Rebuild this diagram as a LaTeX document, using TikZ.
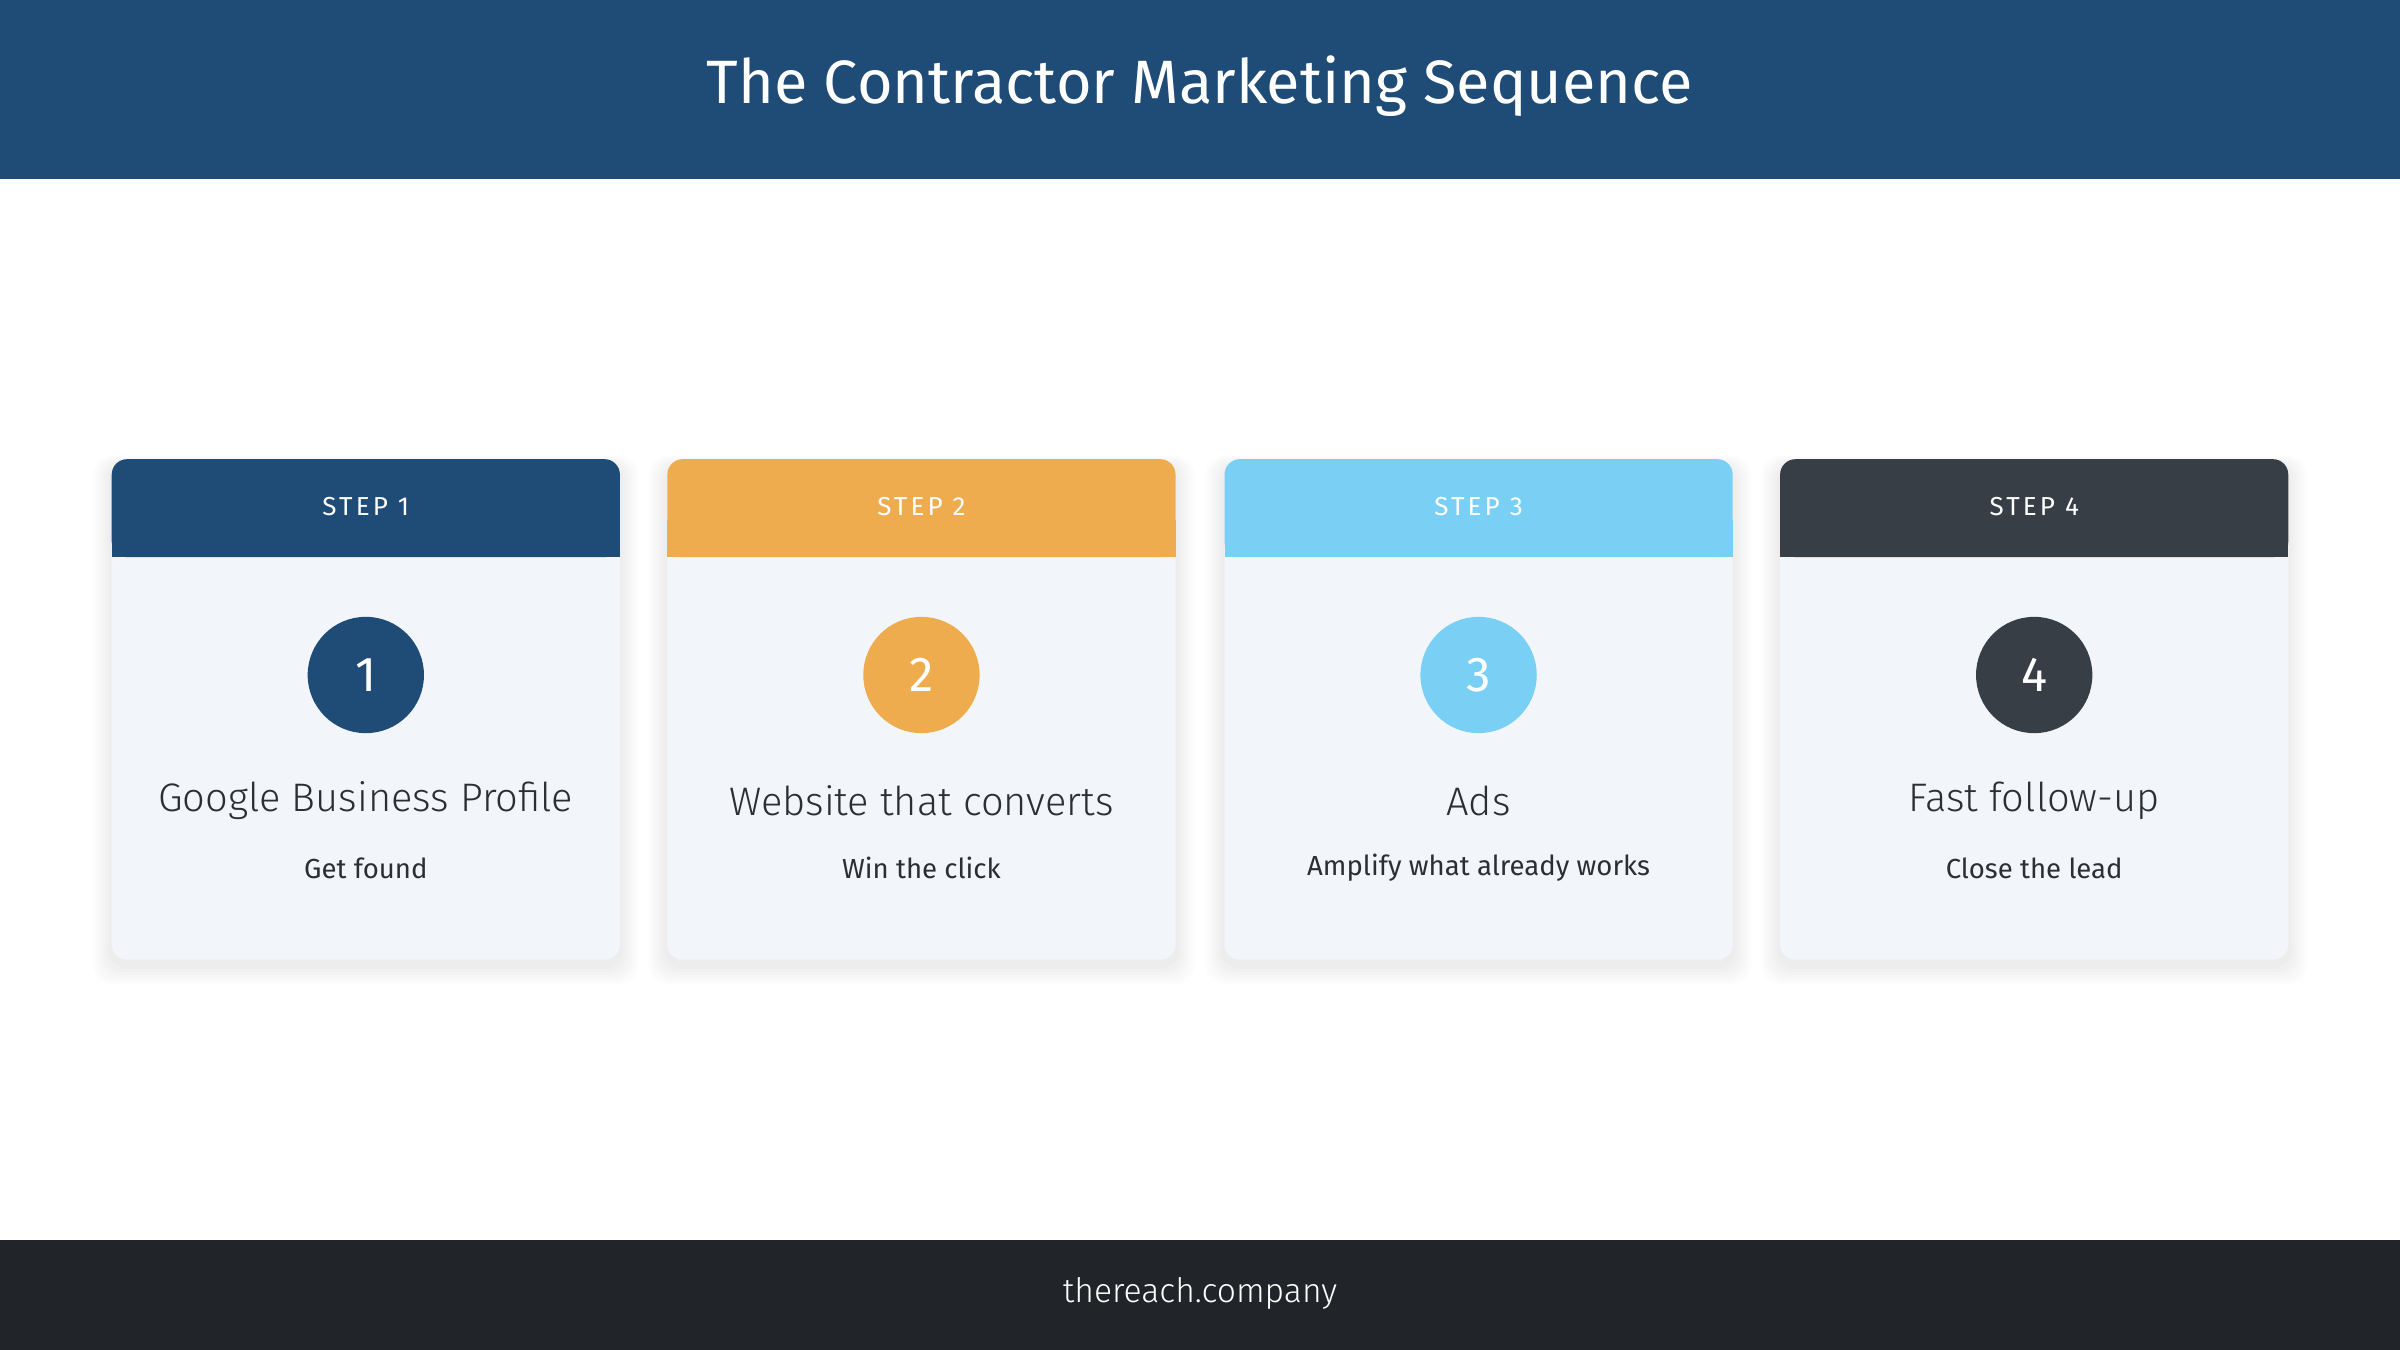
\documentclass[tikz,border=0pt]{standalone}
\usepackage{fontspec}
\setmainfont{Fira Sans}
\newfontfamily\spaced[LetterSpace=12]{Fira Sans}
\newfontfamily\lightf{Fira Sans Light}
\definecolor{navy}{HTML}{1F4C76}
\definecolor{orng}{HTML}{EFAC4E}
\definecolor{sky}{HTML}{79D0F4}
\definecolor{slate}{HTML}{383E46}
\definecolor{foot}{HTML}{212529}
\definecolor{cardbg}{HTML}{F2F6FA}
\definecolor{txt}{HTML}{2B2F33}
\begin{document}
\begin{tikzpicture}[x=1pt,y=-1pt,
  steplbl/.style={font=\spaced\fontsize{17}{20}\selectfont,text=white},
  num/.style={circle,minimum size=76pt,inner sep=0pt,font=\fontsize{32}{36}\selectfont,text=white},
  ttl/.style={font=\lightf\fontsize{26}{30}\selectfont,text=txt},
  sub/.style={font=\fontsize{18}{22}\selectfont,text=txt}]
\useasboundingbox (0,0) rectangle (1568,882);
\fill[white] (0,0) rectangle (1568,882);
\fill[navy] (0,0) rectangle (1568,117);
\node[font=\fontsize{40}{46}\selectfont,text=white] (title) at (784,56) {The Contractor Marketing Sequence};
\fill[foot] (0,810) rectangle (1568,882);
\node[font=\lightf\fontsize{22}{26}\selectfont,text=white] (footer) at (784,845) {thereach.company};
\foreach \x/\c/\n/\t/\s in {73/navy/1/Google Business Profile/Get found,436/orng/2/Website that converts/Win the click,800/sky/3/Ads/Amplify what already works,1163/slate/4/Fast follow-up/Close the lead}{
  \foreach \k in {1,...,6}{\fill[black,opacity=0.012,rounded corners=12pt] (\x-\k*2,300-\k+4) rectangle (\x+332+\k*2,627+\k*2+4);}
  \fill[cardbg,rounded corners=10pt] (\x,300) rectangle (\x+332,627);
  \fill[\c,rounded corners=10pt] (\x,300) rectangle (\x+332,364);
  \fill[\c] (\x,340) rectangle (\x+332,364);
  \node[steplbl] (s\n) at (\x+166,331) {STEP \n};
  \node[num,fill=\c] (c\n) at (\x+166,441) {\n};
  \node[ttl] (t\n) at (\x+166,523) {\t};
  \node[sub] (u\n) at (\x+166,567) {\s};
}
\end{tikzpicture}
\end{document}
